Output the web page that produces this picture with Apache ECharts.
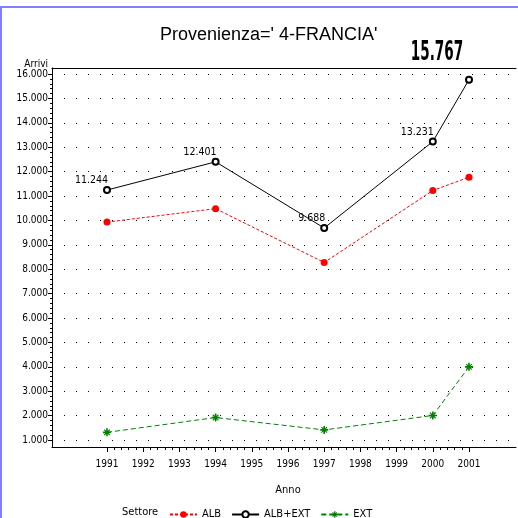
<!DOCTYPE html>
<html>
<head>
  <meta charset="utf-8">
  <title>Provenienza FRANCIA</title>
  <script src="https://cdn.jsdelivr.net/npm/echarts@6/dist/echarts.min.js"></script>
  <style>
    html, body { margin: 0; padding: 0; background: #fff; }
    #frame { position: absolute; left: 0; top: 6px; width: 516px; height: 512px;
             border-top: 2px solid #8080ff; border-left: 2px solid #8080ff; }
    #main { position: absolute; left: 0; top: 0; width: 518px; height: 518px; }
  </style>
</head>
<body>
  <div id="frame"></div>
  <div id="main"></div>
  <script type="text/javascript">
    // dati
    var anni = [1991, 1994, 1997, 2000, 2001];
    var alb = [9930, 10480, 8275, 11225, 11770];
    var ext = [1314, 1921, 1413, 2006, 3997];
    var albExt = [11244, 12401, 9688, 13231, 15767];
    var settori = ['ALB', 'ALB+EXT', 'EXT'];

    var narrow = "'Liberation Sans Narrow', 'DejaVu Sans Condensed', sans-serif";
    var starPath = 'path://M0,4 L10,4 L10,6 L0,6 Z M4,0 L6,0 L6,10 L4,10 Z ' +
      'M1,2 L2,1 L9,8 L8,9 Z M8,1 L9,2 L2,9 L1,8 Z';

    function fmt(v) {
      return String(v).replace(/\B(?=(\d{3})+(?!\d))/g, '.');
    }
    function coppie(vals) {
      return anni.map(function (a, i) { return [a, vals[i]]; });
    }

    var myChart = echarts.init(document.getElementById('main'));

    var ultimo = albExt.length - 1;
    var datiTot = coppie(albExt).map(function (p, i) {
      // l'ultimo valore viene scritto in grande sopra il grafico
      return i === ultimo ? { value: p, label: { show: false } } : p;
    });

    var option = {
      animation: false,
      title: [{
        text: "Provenienza=' 4-FRANCIA'",
        left: 155, top: 21,
        textStyle: { fontSize: 18, fontWeight: 'normal', color: '#000', fontFamily: 'Liberation Sans' }
      }, {
        text: 'Settore',
        left: 117, top: 502,
        textStyle: { fontSize: 11, fontWeight: 'normal', color: '#000', fontFamily: narrow }
      }],
      legend: {
        data: settori,
        left: 164, top: 504,
        itemWidth: 27, itemHeight: 8, itemGap: 10,
        selectedMode: false,
        textStyle: { fontSize: 11, color: '#000', fontFamily: narrow, width: 44 }
      },
      grid: [
        { left: 52, right: 2, top: 68, bottom: 71 },   // cornice
        { left: 52, right: 2, top: 74, bottom: 78 },   // griglia puntinata
        { left: 107, right: 49, top: 74, bottom: 78 }  // dati
      ],
      xAxis: [
        { gridIndex: 0, type: 'value', min: 0, max: 1, axisLine: { lineStyle: { color: '#000', width: 1 } },
          axisTick: { show: false }, axisLabel: { show: false }, splitLine: { show: false } },
        { gridIndex: 0, type: 'value', position: 'top', min: 0, max: 1, axisLine: { lineStyle: { color: '#000', width: 1 } },
          axisTick: { show: false }, axisLabel: { show: false }, splitLine: { show: false } },
        { gridIndex: 1, type: 'value', min: 0, max: 1, show: false },
        {
          gridIndex: 2, type: 'value', min: 1991, max: 2001, interval: 1, offset: 7,
          axisLine: { show: false },
          axisTick: { show: true, length: 5, lineStyle: { color: '#000' } },
          minorTick: { show: true, splitNumber: 5, length: 3, lineStyle: { color: '#000' } },
          axisLabel: { color: '#000', fontSize: 10, fontFamily: narrow, margin: 12, formatter: function (v) { return String(v); } },
          splitLine: { show: false },
          name: 'Anno', nameLocation: 'middle', nameGap: 38,
          nameTextStyle: { color: '#000', fontSize: 11, fontFamily: narrow }
        }
      ],
      yAxis: [
        { gridIndex: 0, type: 'value', min: 0, max: 1, axisLine: { show: true, lineStyle: { color: '#000', width: 1 } },
          axisTick: { show: false }, axisLabel: { show: false }, splitLine: { show: false } },
        {
          gridIndex: 1, type: 'value', min: 1000, max: 16000, interval: 1000,
          axisLine: { show: false },
          axisTick: { show: true, length: 4, lineStyle: { color: '#000' } },
          minorTick: { show: true, splitNumber: 5, length: 2, lineStyle: { color: '#000' } },
          axisLabel: { color: '#000', fontSize: 10, fontFamily: narrow, margin: 4, formatter: function (v) { return fmt(v); } },
          splitLine: { show: true, lineStyle: { color: '#000', width: 1, type: [1, 11] } },
          name: 'Arrivi', nameLocation: 'end', nameGap: 4,
          nameTextStyle: { color: '#000', fontSize: 10, fontFamily: narrow, align: 'right', padding: [0, 4, 0, 0] }
        },
        { gridIndex: 2, type: 'value', min: 1000, max: 16000, show: false }
      ],
      series: [
        {
          name: 'ALB', type: 'line', xAxisIndex: 3, yAxisIndex: 2,
          data: coppie(alb),
          symbol: 'circle', symbolSize: 7,
          itemStyle: { color: '#ff0000' },
          lineStyle: { color: '#ff0000', width: 1, type: [3, 2] }
        },
        {
          name: 'ALB+EXT', type: 'line', xAxisIndex: 3, yAxisIndex: 2,
          data: datiTot,
          symbol: 'emptyCircle', symbolSize: 6,
          itemStyle: { color: '#000', borderColor: '#000', borderWidth: 1.5 },
          lineStyle: { color: '#000', width: 1 },
          label: {
            show: true, position: 'inside', align: 'right', verticalAlign: 'bottom', offset: [1, -4],
            color: '#000', fontSize: 10.5, fontFamily: narrow,
            formatter: function (p) { return fmt(p.value[1]); }
          }
        },
        {
          name: 'EXT', type: 'line', xAxisIndex: 3, yAxisIndex: 2,
          data: coppie(ext),
          symbol: starPath, symbolSize: 8,
          itemStyle: { color: '#008000' },
          lineStyle: { color: '#008000', width: 1, type: [5, 3] }
        }
      ]
    };

    myChart.setOption(option);

    // etichetta grande dell'ultimo anno, posizionata dalla scala dell'asse
    var pt = myChart.convertToPixel({ xAxisIndex: 3, yAxisIndex: 2 }, [anni[ultimo], albExt[ultimo]]);
    myChart.setOption({
      graphic: [{
        type: 'text',
        x: pt[0] - 32, y: pt[1] - 26,
        scaleX: 0.58,
        style: {
          text: fmt(albExt[ultimo]),
          font: "bold 26px 'DejaVu Sans Condensed', sans-serif",
          fill: '#000', textAlign: 'center', textVerticalAlign: 'middle'
        }
      }]
    });
  </script>
</body>
</html>
